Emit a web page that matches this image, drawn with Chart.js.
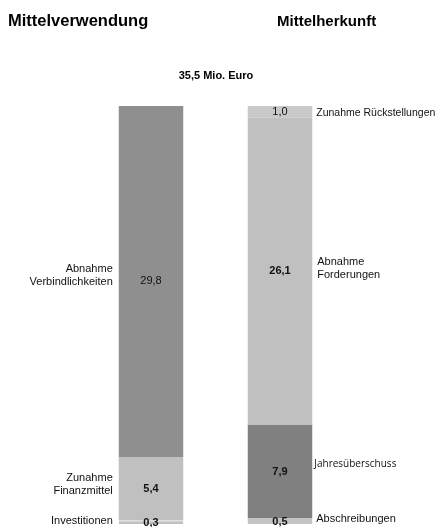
<!DOCTYPE html>
<html>
<head>
<meta charset="utf-8">
<script src="https://cdn.jsdelivr.net/npm/chart.js@4"></script>
<style>
  body { margin: 0; background: #fff; }
  #wrap { position: relative; width: 440px; height: 527px; }
</style>
</head>
<body>
<div id="wrap"><canvas id="flowChart"></canvas></div>
<script>
// Chart data
const columns = ['Mittelverwendung', 'Mittelherkunft'];
const totalLabel = '35,5 Mio. Euro';
const axisMax = 35.5;

// Mittelverwendung (bottom to top)
const useNames = ['Investitionen', 'Zunahme\nFinanzmittel', 'Abnahme\nVerbindlichkeiten'];
const useValues = [0.3, 5.4, 29.8];

// Mittelherkunft (bottom to top)
const sourceNames = ['Abschreibungen', 'Jahresüberschuss', 'Abnahme\nForderungen', 'Zunahme Rückstellungen'];
const sourceValues = [0.5, 7.9, 26.1, 1.0];

// Styling per segment
const useColors = ['#c0c0c0', '#c0c0c0', '#8f8f8f'];
const useBold = [true, true, false];
const useLabelShift = [-1, -4, -6];

const sourceColors = ['#c4c4c4', '#808080', '#c0c0c0', '#c9c9c9'];
const sourceBold = [true, true, true, false];
const sourceLabelShift = [-2, -7, -3, 1];
const sourceLabelGap = [4, 2, 5, 4];
const sourceLabelSize = [11, 10, 11, 10.5];

const FONT = '"Liberation Sans", Arial, sans-serif';

function fmt(v) {
    return v.toFixed(1).replace('.', ',');
}

// Build datasets: left column first, then right column
const datasets = [];
useValues.forEach((v, i) => {
    datasets.push({
        data: [v, null],
        backgroundColor: useColors[i],
        borderColor: '#dcdcdc',
        borderWidth: i === 0 ? { top: 1 } : 0,
        side: 'left', name: useNames[i], bold: useBold[i], shift: useLabelShift[i], gap: 6, size: 11
    });
});
sourceValues.forEach((v, i) => {
    datasets.push({
        data: [null, v],
        backgroundColor: sourceColors[i],
        borderWidth: 0,
        side: 'right', name: sourceNames[i], bold: sourceBold[i], shift: sourceLabelShift[i],
        gap: sourceLabelGap[i], size: sourceLabelSize[i]
    });
});

// Draws titles, values and segment names
const labelPlugin = {
    id: 'segmentLabels',
    afterDraw(chart) {
        const ctx = chart.ctx;
        ctx.save();
        ctx.fillStyle = '#000';
        ctx.textBaseline = 'middle';

        // column titles
        ctx.font = 'bold 16.5px ' + FONT;
        ctx.textAlign = 'left';
        ctx.fillText(columns[0], 8, 21);
        ctx.font = 'bold 15px ' + FONT;
        ctx.fillText(columns[1], 277, 22);

        ctx.font = 'bold 11px ' + FONT;
        ctx.textAlign = 'center';
        ctx.fillText(totalLabel, 216, 76);

        chart.data.datasets.forEach((ds, di) => {
            const meta = chart.getDatasetMeta(di);
            const idx = ds.side === 'left' ? 0 : 1;
            const el = meta.data[idx];
            const value = ds.data[idx];
            const cy = (el.y + el.base) / 2;

            // value inside the bar
            ctx.font = (ds.bold ? 'bold ' : '') + '11px ' + FONT;
            ctx.textAlign = 'center';
            ctx.fillStyle = '#111';
            ctx.fillText(fmt(value), el.x, cy + (value < 1 ? 1 : 0));

            // name beside the bar
            const lines = ds.name.split('\n');
            const lh = 13;
            const y0 = cy + ds.shift - (lines.length - 1) * lh / 2;
            ctx.font = ds.size + 'px ' + FONT;
            if (ds.side === 'left') {
                ctx.textAlign = 'right';
                lines.forEach((t, k) => ctx.fillText(t, el.x - el.width / 2 - ds.gap, y0 + k * lh));
            } else {
                ctx.textAlign = 'left';
                if (ds.name === 'Jahresüberschuss') {
                    ctx.font = '10px "Open Sans", ' + FONT;
                }
                lines.forEach((t, k) => ctx.fillText(t, el.x + el.width / 2 + ds.gap, y0 + k * lh));
            }
        });
        ctx.restore();
    }
};

new Chart(document.getElementById('flowChart').getContext('2d'), {
    type: 'bar',
    data: {
        labels: columns,
        datasets: datasets
    },
    options: {
        responsive: true,
        maintainAspectRatio: false,
        animation: false,
        layout: { padding: { left: 86.5, right: 95.5, top: 106, bottom: 3 } },
        datasets: { bar: { barPercentage: 0.5, categoryPercentage: 1, skipNull: true } },
        plugins: {
            legend: { display: false },
            tooltip: { enabled: false }
        },
        scales: {
            x: { stacked: true, display: false },
            y: { stacked: true, display: false, min: 0, max: axisMax }
        }
    },
    plugins: [labelPlugin]
});
</script>
</body>
</html>
